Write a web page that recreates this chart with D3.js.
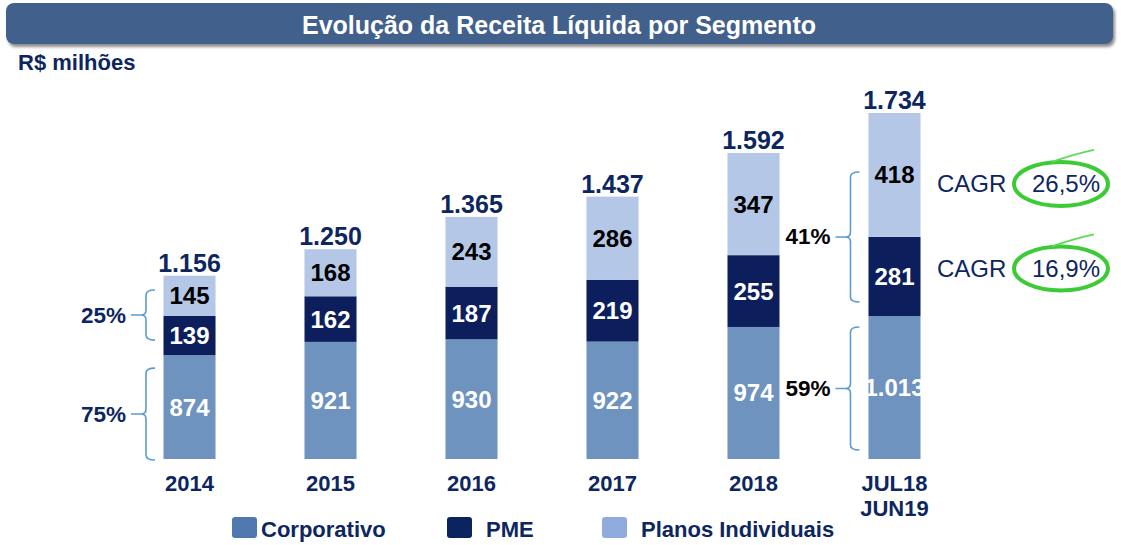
<!DOCTYPE html>
<html>
<head>
<meta charset="utf-8">
<script src="https://cdn.jsdelivr.net/npm/d3@7"></script>
<style>
  body { margin: 0; background: #fff; }
  svg { display: block; font-family: Arial, "Liberation Sans", sans-serif; }
</style>
</head>
<body>
<div id="chart"></div>
<script>
// values (R$ milhões)
const categories = ["2014", "2015", "2016", "2017", "2018", "JUL18 JUN19"];
const corporativo = [874, 921, 930, 922, 974, 1013];
const pme = [139, 162, 187, 219, 255, 281];
const planos = [145, 168, 243, 286, 347, 418];
const totals = [1156, 1250, 1365, 1437, 1592, 1734];
const seriesNames = ["Corporativo", "PME", "Planos Individuais"];
const shareFirst = ["25%", "75%"];   // PME+Planos / Corporativo, 2014
const shareLast = ["41%", "59%"];    // PME+Planos / Corporativo, LTM
const cagrLabels = ["26,5%", "16,9%"]; // Planos Individuais, PME

const navy = "#0d2660";
const colors = { corp: "#6e93bf", pme: "#0c1f5c", pi: "#b4c7e7" };
const legendColors = ["#4f79ae", "#0a2460", "#8faadc"];
const labelColors = { corp: "#fff", pme: "#fff", pi: "#000" };

const W = 1121, H = 545;
const fmt = d3.formatLocale({ decimal: ",", thousands: ".", grouping: [3], currency: ["R$", ""] }).format(",d");

const svg = d3.select("#chart").append("svg")
  .attr("width", W)
  .attr("height", H);

const defs = svg.append("defs");
defs.append("filter").attr("id", "blur")
  .attr("x", "-5%").attr("y", "-30%").attr("width", "110%").attr("height", "160%")
  .append("feGaussianBlur").attr("stdDeviation", 1.6);

// title bar
svg.append("rect")
  .attr("x", 8).attr("y", 6).attr("width", 1107).attr("height", 41).attr("rx", 8)
  .attr("fill", "#8c8c8c").attr("filter", "url(#blur)");
svg.append("rect")
  .attr("x", 6).attr("y", 3).attr("width", 1107).attr("height", 41).attr("rx", 8)
  .attr("fill", "#41608c");
svg.append("text")
  .attr("x", 559).attr("y", 33.5)
  .attr("text-anchor", "middle")
  .attr("font-size", 25).attr("font-weight", "bold").attr("fill", "#fff")
  .text("Evolução da Receita Líquida por Segmento");

svg.append("text")
  .attr("x", 18).attr("y", 70)
  .attr("font-size", 22).attr("font-weight", "bold").attr("fill", navy)
  .text("R$ milhões");

// scales (the slide's bars start from a cut baseline)
const x = d3.scaleBand()
  .domain(categories)
  .range([93, 991])
  .paddingInner(0.631)
  .paddingOuter(0.5);

const y = d3.scaleLinear()
  .domain([505, 1734])
  .range([459, 113])
  .clamp(true);

const rows = categories.map((c, i) => ({
  cat: c, corp: corporativo[i], pme: pme[i], pi: planos[i], total: totals[i]
}));

const segs = rows.flatMap(d => [
  { cat: d.cat, key: "corp", v0: 0, v1: d.corp, value: d.corp },
  { cat: d.cat, key: "pme", v0: d.corp, v1: d.corp + d.pme, value: d.pme },
  { cat: d.cat, key: "pi", v0: d.corp + d.pme, v1: d.total, value: d.pi }
]);

const bars = svg.append("g");

bars.selectAll("rect")
  .data(segs)
  .enter()
  .append("rect")
  .attr("x", d => x(d.cat))
  .attr("y", d => y(d.v1))
  .attr("width", x.bandwidth())
  .attr("height", d => y(d.v0) - y(d.v1))
  .attr("fill", d => colors[d.key]);

bars.selectAll(".seg-label")
  .data(segs)
  .enter()
  .append("text")
  .attr("class", "seg-label")
  .attr("x", d => x(d.cat) + x.bandwidth() / 2)
  .attr("y", d => (y(d.v0) + y(d.v1)) / 2 + 8.5)
  .attr("text-anchor", "middle")
  .attr("font-size", 24).attr("font-weight", "bold")
  .attr("fill", d => labelColors[d.key])
  .text(d => fmt(d.value));

bars.selectAll(".total")
  .data(rows)
  .enter()
  .append("text")
  .attr("class", "total")
  .attr("x", d => x(d.cat) + x.bandwidth() / 2)
  .attr("y", d => y(d.total) - 4)
  .attr("text-anchor", "middle")
  .attr("font-size", 25).attr("font-weight", "bold").attr("fill", navy)
  .text(d => fmt(d.total));

// category labels
const cats = svg.append("g").selectAll("text")
  .data(categories)
  .enter()
  .append("text")
  .attr("text-anchor", "middle")
  .attr("font-size", 22).attr("font-weight", "bold").attr("fill", navy);

cats.selectAll("tspan")
  .data(d => d.split(" ").map(t => ({ t, c: d })))
  .enter()
  .append("tspan")
  .attr("x", d => x(d.c) + x.bandwidth() / 2)
  .attr("y", (d, i) => 491 + i * 25)
  .text(d => d.t);

// braces with share labels
function brace(x0, ya, yb, label, color) {
  const ym = (ya + yb) / 2, c = 9, r = 5, t = 15;
  const p = d3.path();
  p.moveTo(x0 + c, ya);
  p.quadraticCurveTo(x0, ya, x0, ya + r);
  p.lineTo(x0, ym - r);
  p.quadraticCurveTo(x0, ym, x0 - r, ym);
  p.lineTo(x0 - t, ym);
  p.moveTo(x0 - r, ym);
  p.quadraticCurveTo(x0, ym, x0, ym + r);
  p.lineTo(x0, yb - r);
  p.quadraticCurveTo(x0, yb, x0 + c, yb);
  svg.append("path")
    .attr("d", p.toString())
    .attr("fill", "none")
    .attr("stroke", "#5b9bd5")
    .attr("stroke-width", 1.6);
  svg.append("text")
    .attr("x", x0 - 20).attr("y", ym + 7.5)
    .attr("text-anchor", "end")
    .attr("font-size", 22.5).attr("font-weight", "bold").attr("fill", color)
    .text(label);
}

const first = rows[0], last = rows[rows.length - 1];
const bx0 = x(first.cat) - 17.5;
brace(bx0, y(first.corp + first.pme) - 26, y(first.corp) - 15, shareFirst[0], navy);
brace(bx0, y(first.corp) + 13, y(0) + 1, shareFirst[1], navy);
const bx1 = x(last.cat) - 18;
brace(bx1, y(last.total) + 59, y(last.corp) - 14, shareLast[0], "#000");
brace(bx1, y(last.corp) + 11, y(0) - 9, shareLast[1], "#000");

// CAGR callouts
const cagrY = [
  (y(last.corp + last.pme) + y(last.total)) / 2 + 9,
  (y(last.corp) + y(last.corp + last.pme)) / 2 - 8
];
const cagr = svg.append("g").selectAll("g")
  .data(cagrLabels.map((l, i) => ({ l, cy: cagrY[i] })))
  .enter()
  .append("g");

cagr.append("ellipse")
  .attr("cx", 1061).attr("cy", d => d.cy)
  .attr("rx", 47).attr("ry", 22)
  .attr("fill", "none")
  .attr("stroke", "#3ccb36")
  .attr("stroke-width", 4);
cagr.append("path")
  .attr("d", d => `M1052,${d.cy - 22} Q1075,${d.cy - 30} 1094,${d.cy - 34}`)
  .attr("fill", "none")
  .attr("stroke", "#5ed958")
  .attr("stroke-width", 1.8);
cagr.append("text")
  .attr("x", 937).attr("y", d => d.cy + 8.5)
  .attr("font-size", 24).attr("fill", navy)
  .text("CAGR");
cagr.append("text")
  .attr("x", 1032).attr("y", d => d.cy + 8.5)
  .attr("font-size", 24).attr("fill", navy)
  .text(d => d.l);

// legend
const legendX = [232, 447, 602];
const legend = svg.append("g").selectAll("g")
  .data(seriesNames)
  .enter()
  .append("g")
  .attr("transform", (d, i) => `translate(${legendX[i]},517)`);

legend.append("rect")
  .attr("width", 25).attr("height", 21).attr("rx", 3)
  .attr("fill", (d, i) => legendColors[i]);
legend.append("text")
  .attr("x", (d, i) => i === 0 ? 29 : 39)
  .attr("y", 19.5)
  .attr("font-size", 22).attr("font-weight", "bold").attr("fill", navy)
  .text(d => d);
</script>
</body>
</html>
